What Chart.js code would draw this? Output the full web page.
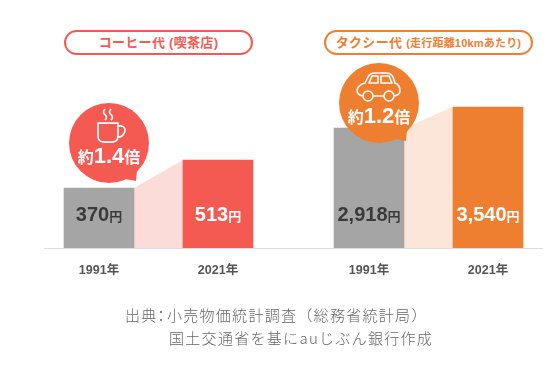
<!DOCTYPE html>
<html lang="ja">
<head>
<meta charset="utf-8">
<script src="https://cdn.jsdelivr.net/npm/chart.js@4"></script>
<style>
  html, body { margin: 0; padding: 0; background: #fff; }
  #wrap { position: relative; width: 560px; height: 380px; overflow: hidden;
    font-family: "Liberation Sans", "Noto Sans CJK JP", sans-serif; }
  canvas { position: absolute; top: 0; }
  .baseline { position: absolute; left: 44px; top: 248px; width: 499px; height: 1px; background: #ddd; }
  .pill { position: absolute; top: 30px; height: 21px; line-height: 21px; border: 2px solid; border-radius: 13px;
    background: #fff; text-align: center; font-weight: bold; font-size: 13px; letter-spacing: .3px; white-space: nowrap; }
  .pill small { font-size: 11px; letter-spacing: .2px; }
  .source { position: absolute; font-size: 15px; line-height: 23px; color: #666;
    font-family: "Noto Sans CJK JP", sans-serif; font-weight: 300; letter-spacing: 1.3px; white-space: nowrap; }
</style>
</head>
<body>
<div id="wrap">
  <canvas id="coffee-chart" width="280" height="380" style="left:0"></canvas>
  <canvas id="taxi-chart" width="280" height="380" style="left:280px"></canvas>
  <div class="baseline"></div>
  <div class="pill" style="left:64px;width:185px;color:#f55a52;border-color:#f55a52">コーヒー代 (喫茶店)</div>
  <div class="pill" style="left:324px;width:205px;color:#ee7f30;border-color:#ee7f30">タクシー代 <small>(走行距離10kmあたり)</small></div>
  <div class="source" style="left:125px;top:303px">出典<span style="margin:0 -3px 0 -4px">：</span>小売物価統計調査（総務省統計局）</div>
  <div class="source" style="left:169px;top:326px">国土交通省を基にauじぶん銀行作成</div>
</div>
<script>
const years = ['1991年', '2021年'];
const coffeePrices = [370, 513];
const taxiPrices = [2918, 3540];
const coffeeRatio = '1.4';
const taxiRatio = '1.2';

const GRAY = '#a5a5a5';
const RED = '#f55a52';
const ORANGE = '#ee7f30';

function drawCup(ctx, cx, cy) {
    ctx.beginPath();
    ctx.moveTo(cx - 11, cy - 20);
    ctx.lineTo(cx + 9, cy - 20);
    ctx.lineTo(cx + 9, cy - 7);
    ctx.quadraticCurveTo(cx + 9, cy - 1, cx + 3, cy - 1);
    ctx.lineTo(cx - 5, cy - 1);
    ctx.quadraticCurveTo(cx - 11, cy - 1, cx - 11, cy - 7);
    ctx.closePath();
    ctx.moveTo(cx + 9, cy - 17);
    ctx.quadraticCurveTo(cx + 16, cy - 18, cx + 16, cy - 13);
    ctx.quadraticCurveTo(cx + 16, cy - 7, cx + 8, cy - 5);
    // steam
    [-4, 2].forEach(dx => {
        ctx.moveTo(cx + dx, cy - 34);
        ctx.quadraticCurveTo(cx + dx - 3, cy - 31, cx + dx, cy - 28.5);
        ctx.quadraticCurveTo(cx + dx + 3, cy - 26, cx + dx, cy - 23);
    });
    ctx.stroke();
}

function drawCar(ctx, cx, cy) {
    ctx.beginPath();
    // body
    ctx.moveTo(cx - 16, cy - 7);
    ctx.quadraticCurveTo(cx - 22, cy - 8, cx - 22, cy - 13);
    ctx.quadraticCurveTo(cx - 21, cy - 18, cx - 14, cy - 20);
    ctx.lineTo(cx - 11, cy - 26);
    ctx.quadraticCurveTo(cx - 9, cy - 30, cx - 4, cy - 30);
    ctx.lineTo(cx + 7, cy - 30);
    ctx.quadraticCurveTo(cx + 12, cy - 30, cx + 14, cy - 26);
    ctx.lineTo(cx + 16, cy - 20);
    ctx.quadraticCurveTo(cx + 21, cy - 18, cx + 21, cy - 12);
    ctx.quadraticCurveTo(cx + 21, cy - 8, cx + 15, cy - 7);
    ctx.moveTo(cx - 6, cy - 7);
    ctx.lineTo(cx + 5, cy - 7);
    // windows
    ctx.moveTo(cx - 10, cy - 20);
    ctx.lineTo(cx - 7, cy - 27);
    ctx.lineTo(cx - 1, cy - 27);
    ctx.lineTo(cx - 1, cy - 20);
    ctx.closePath();
    ctx.moveTo(cx + 2, cy - 20);
    ctx.lineTo(cx + 2, cy - 27);
    ctx.lineTo(cx + 10, cy - 27);
    ctx.lineTo(cx + 13, cy - 20);
    ctx.closePath();
    // wheels
    ctx.moveTo(cx - 6, cy - 7);
    ctx.arc(cx - 11, cy - 7, 5, 0, Math.PI * 2);
    ctx.moveTo(cx + 15, cy - 7);
    ctx.arc(cx + 10, cy - 7, 5, 0, Math.PI * 2);
    ctx.stroke();
}

// connector between the two bars, prices inside them and the ratio bubble
const decorations = {
    id: 'decorations',
    beforeDatasetsDraw(chart, args, opts) {
        const ctx = chart.ctx;
        const bars = chart.getDatasetMeta(0).data;
        const base = chart.chartArea.bottom;
        ctx.save();
        ctx.fillStyle = opts.band;
        ctx.beginPath();
        ctx.moveTo(bars[0].x + bars[0].width / 2, bars[0].y);
        ctx.lineTo(bars[1].x - bars[1].width / 2, bars[1].y);
        ctx.lineTo(bars[1].x - bars[1].width / 2, base);
        ctx.lineTo(bars[0].x + bars[0].width / 2, base);
        ctx.closePath();
        ctx.fill();
        ctx.restore();
    },
    afterDatasetsDraw(chart, args, opts) {
        const ctx = chart.ctx;
        const bars = chart.getDatasetMeta(0).data;
        const values = chart.data.datasets[0].data;
        ctx.save();
        ctx.textBaseline = 'middle';

        // price labels
        bars.forEach((bar, i) => {
            const num = values[i].toLocaleString('en-US');
            ctx.font = 'bold 20px "Liberation Sans", "Noto Sans CJK JP"';
            const w1 = ctx.measureText(num).width;
            ctx.font = 'bold 13px "Noto Sans CJK JP"';
            const w2 = ctx.measureText('円').width;
            const left = bar.x - (w1 + w2) / 2;
            const y = 215;
            ctx.fillStyle = i === 0 ? '#3a3a3a' : '#fff';
            ctx.textAlign = 'left';
            ctx.font = 'bold 20px "Liberation Sans", "Noto Sans CJK JP"';
            ctx.fillText(num, left, y);
            ctx.font = 'bold 13px "Noto Sans CJK JP"';
            ctx.fillText('円', left + w1, y + 1);
        });

        // bubble
        const cx = bars[0].x + 10;
        const cy = bars[0].y + opts.bubbleOffset;
        ctx.fillStyle = opts.color;
        ctx.beginPath();
        ctx.arc(cx, cy, 40, 0, Math.PI * 2);
        ctx.fill();
        ctx.beginPath();
        ctx.moveTo(cx + 16, cy + 36);
        ctx.lineTo(cx + 27, cy + 38);
        ctx.lineTo(cx + 28, cy + 27);
        ctx.closePath();
        ctx.fill();

        ctx.strokeStyle = '#fff';
        ctx.lineWidth = 1.6;
        ctx.lineJoin = 'round';
        opts.icon(ctx, cx, cy);

        // ratio text
        const y = cy + 14;
        ctx.fillStyle = '#fff';
        ctx.font = 'bold 22px "Liberation Sans"';
        const w = ctx.measureText(opts.ratio).width;
        ctx.textAlign = 'center';
        ctx.fillText(opts.ratio, cx, y);
        ctx.font = 'bold 16px "Noto Sans CJK JP"';
        ctx.fillText('約', cx - w / 2 - 8, y);
        ctx.fillText('倍', cx + w / 2 + 8, y);
        ctx.restore();
    }
};

function makeChart(canvas, values, opts) {
    return new Chart(canvas.getContext('2d'), {
        type: 'bar',
        data: {
            labels: years,
            datasets: [{
                data: values,
                backgroundColor: [GRAY, opts.color],
                barThickness: 70,
                base: opts.min
            }]
        },
        options: {
            responsive: false,
            animation: false,
            devicePixelRatio: 1,
            layout: { padding: { left: opts.padLeft, right: opts.padRight, top: 98, bottom: 0 } },
            plugins: {
                legend: { display: false },
                tooltip: { enabled: false },
                decorations: opts
            },
            scales: {
                x: {
                    grid: { display: false },
                    border: { display: false },
                    afterFit(scale) { scale.height = 132; },
                    ticks: {
                        padding: 7,
                        color: '#555',
                        font: { family: '"Liberation Sans", "Noto Sans CJK JP"', size: 12.5, weight: 'bold' }
                    }
                },
                // bars are not drawn from zero in the original, so the ranges are cut to fit
                y: { display: false, min: opts.min, max: opts.max }
            }
        },
        plugins: [decorations]
    });
}

makeChart(document.querySelector('#coffee-chart'), coffeePrices, {
    color: RED, band: '#fcdcd9', min: 64, max: 830,
    padLeft: 39.5, padRight: 2.5, bubbleOffset: -45, ratio: coffeeRatio, icon: drawCup
});
makeChart(document.querySelector('#taxi-chart'), taxiPrices, {
    color: ORANGE, band: '#fbe6d9', min: -636, max: 3807,
    padLeft: 29.5, padRight: 12.5, bubbleOffset: -25, ratio: taxiRatio, icon: drawCar
});
</script>
</body>
</html>
